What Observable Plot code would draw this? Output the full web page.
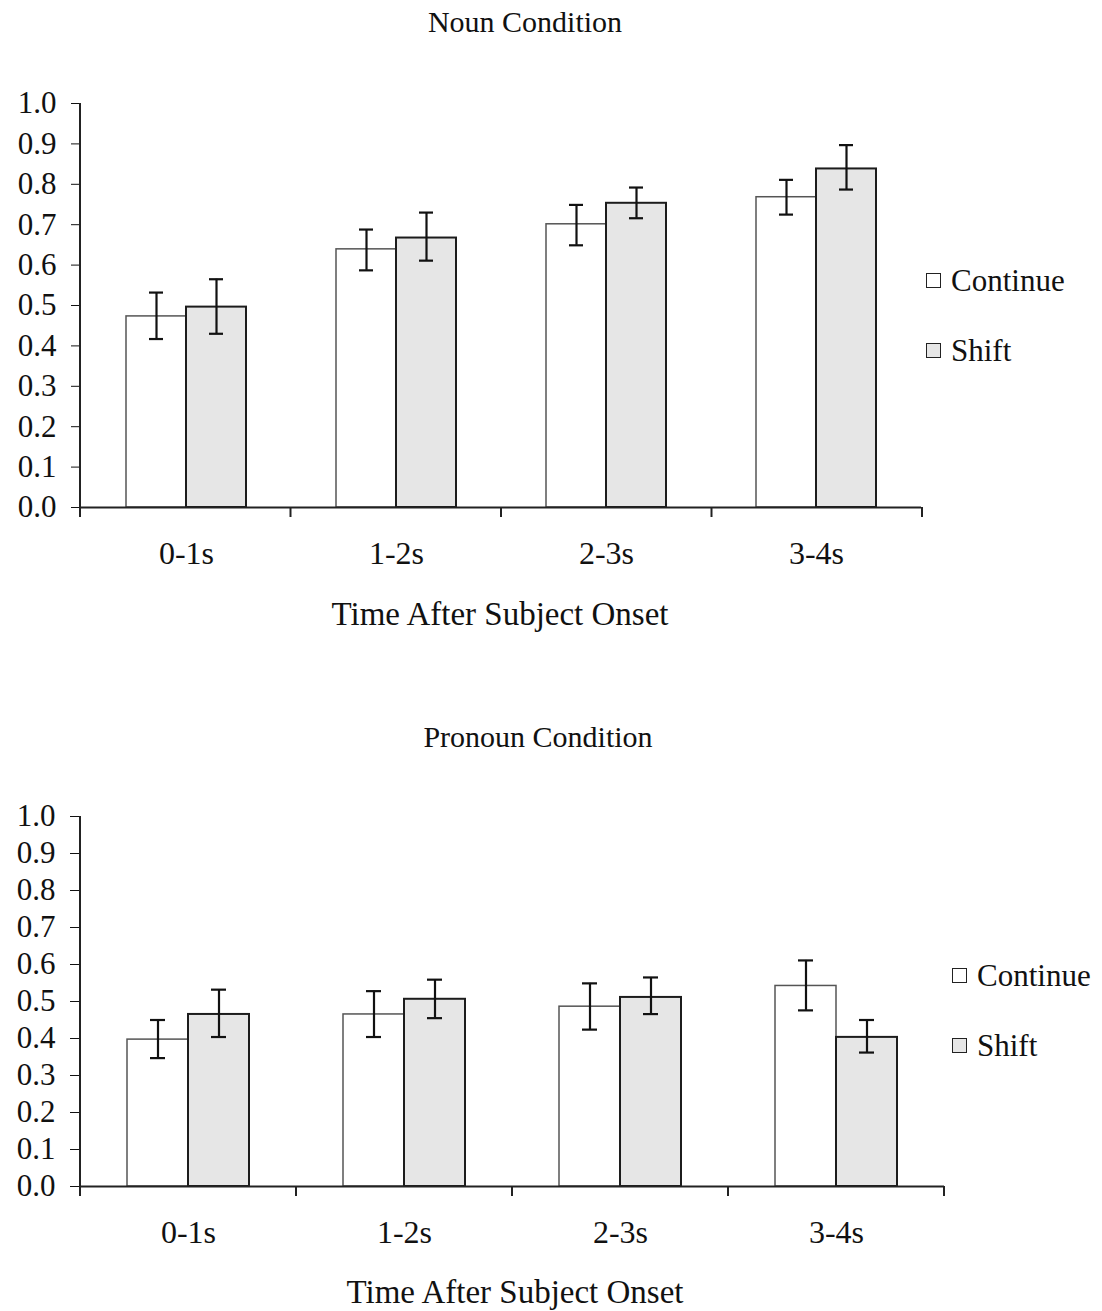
<!DOCTYPE html>
<html>
<head>
<meta charset="utf-8">
<script src="https://cdn.jsdelivr.net/npm/d3@7"></script>
<script src="https://cdn.jsdelivr.net/npm/@observablehq/plot@0.6"></script>
<style>
  html, body { margin: 0; padding: 0; background: #fff; }
  body { width: 1102px; height: 1311px; position: relative; overflow: hidden;
         font-family: "Liberation Serif", "Times New Roman", serif; color: #111; }
  .abs { position: absolute; }
  .ctext { position: absolute; transform: translate(-50%, -50%); line-height: 1; white-space: nowrap; }
  .leg { position: absolute; display: flex; align-items: center; height: 40px; font-size: 31px; line-height: 1; white-space: nowrap; }
  .sw { width: 13px; height: 13px; border: 1.8px solid #222; margin-right: 10px; }
</style>
</head>
<body>
<script>
// ---- data ----
const times = ["0-1s", "1-2s", "2-3s", "3-4s"];
const series = ["Continue", "Shift"];
const yTicks = [0.0, 0.1, 0.2, 0.3, 0.4, 0.5, 0.6, 0.7, 0.8, 0.9, 1.0];

const nounContinue   = [0.473, 0.639, 0.701, 0.768];
const nounContinueLo = [0.417, 0.587, 0.649, 0.725];
const nounContinueHi = [0.532, 0.688, 0.749, 0.811];
const nounShift      = [0.496, 0.667, 0.753, 0.838];
const nounShiftLo    = [0.430, 0.611, 0.716, 0.787];
const nounShiftHi    = [0.565, 0.730, 0.792, 0.897];

const pronounContinue   = [0.397, 0.465, 0.486, 0.542];
const pronounContinueLo = [0.347, 0.404, 0.424, 0.476];
const pronounContinueHi = [0.450, 0.528, 0.549, 0.611];
const pronounShift      = [0.465, 0.506, 0.511, 0.403];
const pronounShiftLo    = [0.404, 0.455, 0.466, 0.362];
const pronounShiftHi    = [0.532, 0.559, 0.565, 0.450];

const titles = ["Noun Condition", "Pronoun Condition"];
const xTitle = "Time After Subject Onset";

function rows(cv, clo, chi, sv, slo, shi) {
  const out = [];
  times.forEach((t, i) => {
    out.push({time: t, series: "Continue", value: cv[i], lo: clo[i], hi: chi[i]});
    out.push({time: t, series: "Shift", value: sv[i], lo: slo[i], hi: shi[i]});
  });
  return out;
}

const FONT = '"Liberation Serif", "Times New Roman", serif';

function panel(data, o) {
  const plot = Plot.plot({
    width: 1102,
    height: o.height,
    marginTop: o.mt,
    marginLeft: 80,
    marginRight: o.mr,
    marginBottom: o.mb,
    style: {fontFamily: FONT, fontSize: "31px", color: "#111", background: "transparent", overflow: "visible"},
    fx: {domain: times, padding: 0, label: null, axis: "bottom", tickSize: 0, tickPadding: 34},
    x: {domain: series, paddingInner: 0, paddingOuter: 0.75, axis: null},
    y: {domain: [0, 1], ticks: yTicks, tickFormat: ".1f", tickSize: 10, tickPadding: 15, label: null},
    marks: [
      Plot.barY(data.filter(d => d.series === "Continue"), {fx: "time", x: "series", y: "value", fill: "#ffffff", stroke: "#555", strokeWidth: 1.5}),
      Plot.barY(data.filter(d => d.series === "Shift"), {fx: "time", x: "series", y: "value", fill: "#e6e6e6", stroke: "#1c1c1c", strokeWidth: 2}),
      Plot.ruleY([0], {stroke: "#222", strokeWidth: 2}),
      Plot.ruleX(data, {fx: "time", x: "series", y1: "lo", y2: "hi", stroke: "#111", strokeWidth: 2.2}),
      Plot.tickY(data, {fx: "time", x: "series", y: "lo", stroke: "#111", strokeWidth: 2.2, insetLeft: 23, insetRight: 23}),
      Plot.tickY(data, {fx: "time", x: "series", y: "hi", stroke: "#111", strokeWidth: 2.2, insetLeft: 23, insetRight: 23})
    ]
  });
  // slightly larger category labels
  d3.select(plot).selectAll('g[aria-label^="fx-axis"]').attr("font-size", 32);
  // axis line and category boundary ticks, from the plot's own scales
  const fx = plot.scale("fx");
  const y = plot.scale("y");
  const [r0, r1] = fx.range;
  const step = (r1 - r0) / times.length;
  const g = d3.select(plot).append("g").attr("stroke", "#222").attr("stroke-width", 2);
  g.append("line").attr("x1", r0).attr("x2", r0).attr("y1", y.apply(1)).attr("y2", y.apply(0));
  d3.range(times.length + 1).forEach(i => {
    const xx = r0 + i * step;
    g.append("line").attr("x1", xx).attr("x2", xx).attr("y1", y.apply(0)).attr("y2", y.apply(0) + 10);
  });
  const wrap = document.createElement("div");
  wrap.className = "abs";
  wrap.style.left = "0px";
  wrap.style.top = o.top + "px";
  wrap.appendChild(plot);
  document.body.appendChild(wrap);
}

function ctext(txt, cx, cy, size) {
  const d = document.createElement("div");
  d.className = "ctext";
  d.style.left = cx + "px";
  d.style.top = cy + "px";
  d.style.fontSize = size + "px";
  d.textContent = txt;
  document.body.appendChild(d);
}

function legendItem(label, fill, x, cy) {
  const d = document.createElement("div");
  d.className = "leg";
  d.style.left = x + "px";
  d.style.top = (cy - 20) + "px";
  const sw = document.createElement("span");
  sw.className = "sw";
  sw.style.background = fill;
  const t = document.createElement("span");
  t.textContent = label;
  d.appendChild(sw);
  d.appendChild(t);
  document.body.appendChild(d);
}

const nounData = rows(nounContinue, nounContinueLo, nounContinueHi, nounShift, nounShiftLo, nounShiftHi);
const pronounData = rows(pronounContinue, pronounContinueLo, pronounContinueHi, pronounShift, pronounShiftLo, pronounShiftHi);

panel(nounData, {top: 60, height: 580, mt: 43, mb: 133, mr: 180});
panel(pronounData, {top: 760, height: 551, mt: 56, mb: 125, mr: 158});

ctext(titles[0], 525, 22, 30);
ctext(xTitle, 500, 614, 33);
ctext(titles[1], 538, 737, 30);
ctext(xTitle, 515, 1292, 33);

legendItem(series[0], "#ffffff", 926, 280);
legendItem(series[1], "#e6e6e6", 926, 350);
legendItem(series[0], "#ffffff", 952, 975);
legendItem(series[1], "#e6e6e6", 952, 1045);
</script>
</body>
</html>
